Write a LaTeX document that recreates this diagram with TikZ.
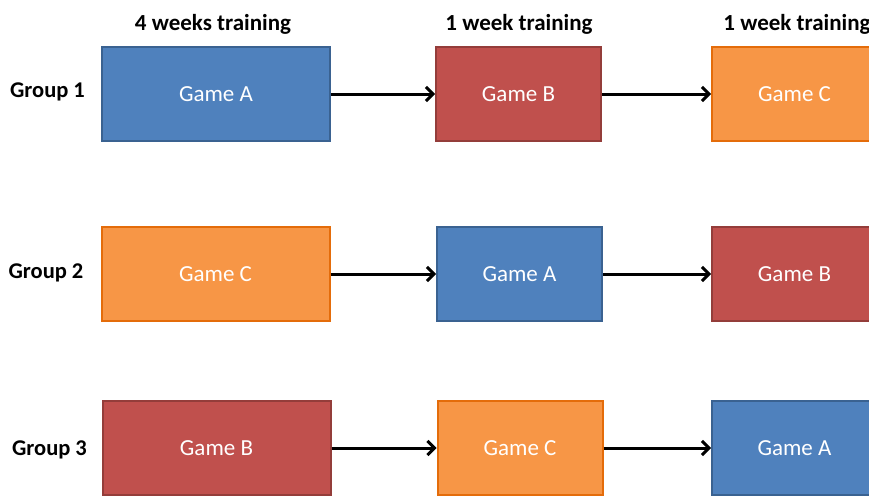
\documentclass[tikz,border=0pt]{standalone}
\usepackage{fontspec}
\setmainfont{Carlito}
\usetikzlibrary{arrows.meta}
\definecolor{bfill}{HTML}{4F81BD}\definecolor{bline}{HTML}{3A6291}
\definecolor{rfill}{HTML}{C0504D}\definecolor{rline}{HTML}{943D3A}
\definecolor{ofill}{HTML}{F79646}\definecolor{oline}{HTML}{E46C0A}
\tikzset{
  gbox/.style={rectangle, line width=2pt, text=white, font=\fontsize{23}{26}\selectfont, inner sep=0pt},
  bigbox/.style={gbox, minimum width=228pt, minimum height=94pt},
  smallbox/.style={gbox, minimum width=165pt, minimum height=94pt},
  gA/.style={fill=bfill, draw=bline},
  gB/.style={fill=rfill, draw=rline},
  gC/.style={fill=ofill, draw=oline},
  hdr/.style={font=\bfseries\fontsize{23}{26}\selectfont, text=black},
  grp/.style={font=\bfseries\fontsize{22.5}{26}\selectfont, text=black},
  conn/.style={line width=3pt, -{Straight Barb[length=7pt,width=14pt,line width=3pt]}}
}
\begin{document}
\begin{tikzpicture}[x=1pt,y=-1pt]
\useasboundingbox (0,0) rectangle (869,495);
\fill[white] (0,0) rectangle (869,495);
% headers
\node[hdr] (h1) at (213,24) {4 weeks training};
\node[hdr] (h2) at (519,24) {1 week training};
\node[hdr] (h3) at (797,24) {1 week training};
% group labels
\node[grp] (g1) at (47.5,92) {Group 1};
\node[grp] (g2) at (46,273) {Group 2};
\node[grp] (g3) at (49.5,450) {Group 3};
% row 1
\node[bigbox, gA] (r1a) at (216,94) {Game A};
\node[smallbox, gB] (r1b) at (518.5,94) {Game B};
\node[smallbox, gC] (r1c) at (794.5,94) {Game C};
% row 2
\node[bigbox, gC] (r2a) at (215.5,274) {Game C};
\node[smallbox, gA] (r2b) at (519.5,274) {Game A};
\node[smallbox, gB] (r2c) at (794.5,274) {Game B};
% row 3
\node[bigbox, gB] (r3a) at (216.5,448) {Game B};
\node[smallbox, gC] (r3b) at (520,448) {Game C};
\node[smallbox, gA] (r3c) at (794.5,448) {Game A};
% arrows
\draw[conn] (r1a.east) -- (r1b.west);
\draw[conn] (r1b.east) -- (r1c.west);
\draw[conn] (r2a.east) -- (r2b.west);
\draw[conn] (r2b.east) -- (r2c.west);
\draw[conn] (r3a.east) -- (r3b.west);
\draw[conn] (r3b.east) -- (r3c.west);
\end{tikzpicture}
\end{document}
